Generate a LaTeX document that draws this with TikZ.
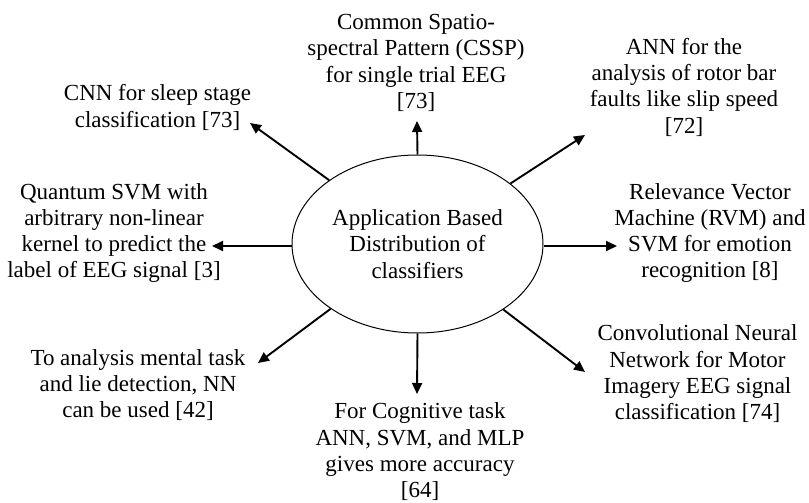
\documentclass[tikz,border=0pt]{standalone}
\usepackage{fontspec}
\setmainfont{Liberation Serif}
\usetikzlibrary{shapes.geometric,arrows.meta}
\begin{document}
\begin{tikzpicture}[x=1pt,y=-1pt,
  label text/.style={align=center,inner sep=0pt,font=\fontsize{23}{26.3}\selectfont},
  hub/.style={draw,ellipse,line width=1pt,minimum width=251pt,minimum height=178pt,inner sep=0pt,
    align=center,font=\fontsize{23}{26.3}\selectfont},
  spoke/.style={line width=1.9pt,-{Triangle[length=11pt,width=10pt]}}]
\useasboundingbox (0,0) rectangle (809,503);

% central ellipse
\node[hub] (hub) at (417.5,244) {Application Based\\Distribution of\\classifiers};

% surrounding application labels
\node[label text] (top)   at (416,63)    {Common Spatio-\\spectral Pattern (CSSP)\\for single trial EEG\\{}[73]};
\node[label text] (cnn)   at (157.5,107.5) {CNN for sleep stage\\classification [73]};
\node[label text] (ann)   at (684,87)    {ANN for the\\analysis of rotor bar\\faults like slip speed\\{}[72]};
\node[label text] (qsvm)  at (114,233)   {Quantum SVM with\\arbitrary non-linear\\kernel to predict the\\label of EEG signal [3]};
\node[label text] (rvm)   at (710,233)   {Relevance Vector\\Machine (RVM) and\\SVM for emotion\\recognition [8]};
\node[label text] (lie)   at (138,385)   {To analysis mental task\\and lie detection, NN\\can be used [42]};
\node[label text] (cnnmi) at (697.5,374) {Convolutional Neural\\Network for Motor\\Imagery EEG signal\\classification [74]};
\node[label text] (cog)   at (420,452)   {For Cognitive task\\ANN, SVM, and MLP\\gives more accuracy\\{}[64]};

% arrow tips
\coordinate (tTop)   at (417,121);
\coordinate (tCnn)   at (250,123);
\coordinate (tAnn)   at (585,135);
\coordinate (tQsvm)  at (212,246);
\coordinate (tRvm)   at (617,246);
\coordinate (tLie)   at (258,363);
\coordinate (tCnnmi) at (585,372);
\coordinate (tCog)   at (417,394);

% spokes from the ellipse
\draw[spoke] (hub.north) -- (tTop);
\draw[spoke] (hub) -- (tCnn);
\draw[spoke] (hub) -- (tAnn);
\draw[spoke] (hub.west |- tQsvm) -- (tQsvm);
\draw[spoke] (hub.east |- tRvm) -- (tRvm);
\draw[spoke] (hub) -- (tLie);
\draw[spoke] (hub) -- (tCnnmi);
\draw[spoke] (hub.south) -- (tCog);
\end{tikzpicture}
\end{document}
